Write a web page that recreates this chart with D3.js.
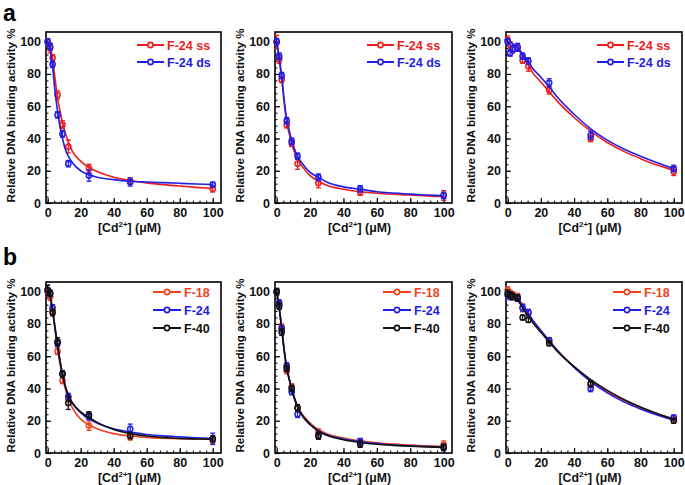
<!DOCTYPE html>
<html><head><meta charset="utf-8">
<script src="https://cdn.jsdelivr.net/npm/d3@7"></script>
<style>body{margin:0;background:#fff}svg text{font-family:"Liberation Sans",Arial,sans-serif;font-weight:bold}</style>
</head><body>
<svg id="c" width="685" height="485"></svg>
<script>
// ---- data ----
const conc = [0, 1.5, 3, 6, 9, 12.5, 25, 50, 100];
const fitX = [0, 1.5, 3, 4.5, 6, 7.5, 9, 10.5, 12.5, 15, 20, 25, 30, 40, 50, 60, 70, 80, 90, 100];
const xTicks = [0, 20, 40, 60, 80, 100];
const yTicks = [0, 20, 40, 60, 80, 100];
const colRed = "#ee1c1c", colRedB = "#f0421e", colBlue = "#1f1fe6", colBlack = "#111111";

// panel a1
const a1_ss = [100, 96, 90, 67, 48.5, 35, 21.5, 13.5, 8.8];
const a1_ss_err = [2, 3, 2, 2.5, 2.5, 4, 2.5, 2, 2];
const a1_ds = [100, 97, 86, 54.6, 42.8, 24.4, 17, 13, 11.4];
const a1_ds_err = [1.5, 2, 2, 2, 2, 2, 3.5, 2.5, 1.5];
const a1_ss_fit = [100, 96, 89, 77, 65, 57, 50, 44, 38, 32, 26, 22, 19.5, 16, 14, 12.5, 11.4, 10.5, 9.7, 9];
const a1_ds_fit = [100, 95, 84, 69, 57, 47, 40, 34, 29, 25, 20, 17.5, 16, 14.5, 13.5, 13, 12.6, 12.2, 11.8, 11.5];
// panel a2
const a2_ss = [100, 89, 76.6, 48.5, 37, 24.4, 12.4, 6.7, 4.7];
const a2_ss_err = [4, 2.5, 2, 2, 2, 3.5, 3, 2, 3];
const a2_ds = [100, 91, 79, 51, 38.3, 29, 16, 8.8, 4.7];
const a2_ds_err = [2, 2, 2, 2, 2, 2, 2, 2, 2];
const a2_ss_fit = [100, 89, 77, 62, 50, 43, 37, 32, 27, 23, 17, 13.5, 11, 8.5, 7, 6, 5.4, 5, 4.4, 4];
const a2_ds_fit = [100, 90, 79, 64, 52, 45, 39, 34, 29, 25, 19, 16, 13, 10, 8.5, 7, 6.2, 5.5, 5, 4.5];
// panel a3
const a3_ss = [101, 98, 95, 96.5, 88.6, 84.7, 70, 40, 19.5];
const a3_ss_err = [2.5, 2, 2, 2, 2, 3, 2.5, 2, 2.5];
const a3_ds = [100, 93, 95.5, 96.5, 91, 88, 74.5, 42, 21.4];
const a3_ds_err = [2, 2, 2, 2.5, 2, 2, 2.5, 2.5, 2];
const a3_ss_fit = [100, 99.5, 98.5, 97.2, 95.8, 93.5, 91, 88.7, 85.5, 81, 75, 69, 63, 53, 44.5, 37.5, 32, 27.5, 23.5, 20.3];
const a3_ds_fit = [100, 99.6, 98.8, 97.8, 96.6, 94.6, 92.5, 90.3, 87.3, 83.5, 78, 72, 65.5, 55, 46, 39, 33.5, 29, 25, 21.5];
// panel b1
const b1_18 = [100, 97, 88, 63, 45, 34, 17, 10, 8];
const b1_18_err = [2, 2.5, 2, 2, 2, 2, 3, 2, 2];
const b1_24 = [101, 99, 90, 68, 49, 35, 22.6, 14.9, 8.8];
const b1_24_err = [3, 2, 2, 2, 2, 2, 2, 3, 3.5];
const b1_40 = [101, 99, 87, 69, 49, 31, 23.6, 10.8, 8.8];
const b1_40_err = [3, 2, 2, 2.5, 2, 4, 2, 2, 2];
const b1_18_fit = [100, 96, 88, 76, 64, 55, 47, 40.5, 34, 28, 21, 17.5, 15, 12, 10.5, 9.7, 9.2, 8.9, 8.7, 8.5];
const b1_24_fit = [100, 97, 89, 78, 67, 57, 49, 42, 36, 31, 25, 21, 18.5, 15, 13, 11.5, 10.6, 10, 9.5, 9];
const b1_40_fit = [100, 97, 88, 77, 67, 57, 49, 42, 36, 31, 25.5, 22, 19, 14.5, 12, 10.5, 9.6, 9, 8.7, 8.5];
// panel b2
const b2_18 = [100, 92, 78, 51, 41, 28, 13, 7, 5];
const b2_18_err = [2, 2, 2, 2, 2, 2, 2, 2, 2.5];
const b2_24 = [100, 93, 77, 54, 38, 24, 11, 7, 3.5];
const b2_24_err = [2, 2, 2, 2, 2, 2, 2, 2, 2];
const b2_40 = [100, 91, 75, 52.5, 40, 28, 10.5, 5.5, 3.5];
const b2_40_err = [2, 2, 2, 2, 2, 2, 2, 2, 2];
const b2_18_fit = [100, 90, 78, 64, 53, 46, 40, 34.5, 29, 24.5, 18.5, 14.5, 12, 9.3, 7.5, 6.3, 5.5, 5, 4.5, 4.2];
const b2_24_fit = [100, 90, 77, 63, 52.5, 45.5, 39.5, 34, 28.5, 23.5, 17.5, 13.8, 11.3, 8.6, 7, 5.8, 5, 4.5, 4, 3.7];
const b2_40_fit = [100, 90, 77.5, 64, 53, 46, 40, 34.5, 29, 24, 17.8, 13.5, 11, 8.2, 6.5, 5.4, 4.7, 4.2, 3.8, 3.5];
// panel b3
const b3_18 = [101, 99, 98, 97, 90, 87, 69.5, 42.5, 21.5];
const b3_18_err = [2, 2, 2, 2, 2.5, 2, 1.5, 2, 1.5];
const b3_24 = [98, 97, 97, 96, 90, 87, 70, 40, 22];
const b3_24_err = [2, 2, 2, 2, 2, 2, 1.5, 2, 1.5];
const b3_40 = [99, 98, 97, 96, 84, 82.5, 68, 43, 20];
const b3_40_err = [2, 2, 2, 2, 1.5, 1.5, 1.5, 2, 1.5];
const b3_18_fit = [100, 99.5, 98.6, 97.4, 96, 94, 91.8, 89.5, 86.5, 82.5, 76, 69.5, 63.5, 53.5, 45, 38, 32.5, 28, 24.3, 21.2];
const b3_24_fit = [100, 99.5, 98.6, 97.4, 96, 94, 91.8, 89.5, 86.5, 82.5, 76, 69.7, 63.5, 53, 44.3, 37.3, 31.7, 27.3, 23.5, 20.3];
const b3_40_fit = [100, 99.3, 98, 96.5, 94.8, 92.6, 90.2, 87.8, 84.8, 81, 74.8, 68.8, 63, 53.5, 45.5, 38.8, 33.2, 28.5, 24.5, 20.8];

const labelsA = ["F-24 ss", "F-24 ds"];
const labelsB = ["F-18", "F-24", "F-40"];

// ---- drawing ----
const svg = d3.select("#c");
const panels = [
  {l:46, r:221, t:32, b:203, series:[[a1_ss,a1_ss_err,a1_ss_fit,colRed],[a1_ds,a1_ds_err,a1_ds_fit,colBlue]], labels:labelsA, leg:{x:137, y:45}},
  {l:275, r:452, t:32, b:203, series:[[a2_ss,a2_ss_err,a2_ss_fit,colRed],[a2_ds,a2_ds_err,a2_ds_fit,colBlue]], labels:labelsA, leg:{x:367, y:45}},
  {l:506, r:682, t:32, b:203, series:[[a3_ss,a3_ss_err,a3_ss_fit,colRed],[a3_ds,a3_ds_err,a3_ds_fit,colBlue]], labels:labelsA, leg:{x:597, y:45}},
  {l:46, r:221, t:282, b:453, series:[[b1_18,b1_18_err,b1_18_fit,colRedB],[b1_24,b1_24_err,b1_24_fit,colBlue],[b1_40,b1_40_err,b1_40_fit,colBlack]], labels:labelsB, leg:{x:153, y:292}},
  {l:275, r:452, t:282, b:453, series:[[b2_18,b2_18_err,b2_18_fit,colRedB],[b2_24,b2_24_err,b2_24_fit,colBlue],[b2_40,b2_40_err,b2_40_fit,colBlack]], labels:labelsB, leg:{x:383, y:292}},
  {l:506, r:682, t:282, b:453, series:[[b3_18,b3_18_err,b3_18_fit,colRedB],[b3_24,b3_24_err,b3_24_fit,colBlue],[b3_40,b3_40_err,b3_40_fit,colBlack]], labels:labelsB, leg:{x:613, y:292}}
];

panels.forEach(p => {
  const x = d3.scaleLinear().domain([-1, 105]).range([p.l, p.r]);
  const y = d3.scaleLinear().domain([0, 106]).range([p.b, p.t]);
  const g = svg.append("g");

  // minor ticks (inward)
  const minor = d3.range(0, 101, 4);
  g.append("g").attr("transform", `translate(0,${p.b})`)
    .call(d3.axisBottom(x).tickValues(minor).tickSize(-2.5).tickFormat(""))
    .call(s => s.select(".domain").remove())
    .selectAll("line").attr("stroke", "#000").attr("stroke-width", 1);
  g.append("g").attr("transform", `translate(${p.l},0)`)
    .call(d3.axisLeft(y).tickValues(minor).tickSize(-2.5).tickFormat(""))
    .call(s => s.select(".domain").remove())
    .selectAll("line").attr("stroke", "#000").attr("stroke-width", 1);

  // major axes
  const xa = g.append("g").attr("transform", `translate(0,${p.b})`)
    .call(d3.axisBottom(x).tickValues(xTicks).tickSize(-5).tickPadding(5));
  xa.select(".domain").remove();
  xa.selectAll("line").attr("stroke", "#000").attr("stroke-width", 1.2);
  xa.selectAll("text").attr("font-size", 12.5).attr("fill", "#111").attr("font-family", "Liberation Sans, Arial").attr("font-weight", "bold");
  const ya = g.append("g").attr("transform", `translate(${p.l},0)`)
    .call(d3.axisLeft(y).tickValues(yTicks).tickSize(-5).tickPadding(5));
  ya.select(".domain").remove();
  ya.selectAll("line").attr("stroke", "#000").attr("stroke-width", 1.2);
  ya.selectAll("text").attr("font-size", 12.5).attr("fill", "#111").attr("font-family", "Liberation Sans, Arial").attr("font-weight", "bold");

  // frame
  g.append("rect").attr("x", p.l).attr("y", p.t).attr("width", p.r - p.l).attr("height", p.b - p.t)
    .attr("fill", "none").attr("stroke", "#000").attr("stroke-width", 1.6);

  // axis labels
  g.append("text").attr("transform", `translate(${p.l - 31},${(p.t + p.b) / 2 - 2}) rotate(-90)`)
    .attr("text-anchor", "middle").attr("font-size", 11.6).attr("fill", "#111")
    .text("Relative DNA binding activity %");
  const xl = g.append("text").attr("x", (p.l + p.r) / 2 - 4).attr("y", p.b + 29)
    .attr("text-anchor", "middle").attr("font-size", 12.3).attr("fill", "#111");
  xl.append("tspan").text("[Cd");
  xl.append("tspan").attr("font-size", 8).attr("dy", -5).text("2+");
  xl.append("tspan").attr("dy", 5).text("] (\u03bcM)");

  // series
  const line = d3.line().x((d, i) => x(fitX[i])).y(d => y(d)).curve(d3.curveMonotoneX);
  p.series.forEach(([vals, errs, fit, col]) => {
    g.append("path").datum(fit).attr("d", line).attr("fill", "none").attr("stroke", col).attr("stroke-width", 1.6);
    const pts = g.append("g");
    vals.forEach((v, i) => {
      const cx = x(conc[i]);
      const y1 = y(v + errs[i]), y2 = y(v - errs[i]);
      pts.append("line").attr("x1", cx).attr("x2", cx).attr("y1", y1).attr("y2", y2).attr("stroke", col).attr("stroke-width", 1.3);
      [y1, y2].forEach(yy => pts.append("line").attr("x1", cx - 2.5).attr("x2", cx + 2.5).attr("y1", yy).attr("y2", yy).attr("stroke", col).attr("stroke-width", 1.3));
      pts.append("circle").attr("cx", cx).attr("cy", y(v)).attr("r", 2.6).attr("fill", "none").attr("stroke", col).attr("stroke-width", 1.5);
    });
  });

  // legend
  p.labels.forEach((lab, i) => {
    const col = p.series[i][3];
    const ly = p.leg.y + i * (p.labels.length === 2 ? 17 : 18);
    const len = p.labels.length === 2 ? 27 : 28;
    g.append("line").attr("x1", p.leg.x).attr("x2", p.leg.x + len).attr("y1", ly).attr("y2", ly).attr("stroke", col).attr("stroke-width", 2);
    g.append("circle").attr("cx", p.leg.x + len / 2).attr("cy", ly).attr("r", 2.6).attr("fill", "#fff").attr("stroke", col).attr("stroke-width", 1.6);
    g.append("text").attr("x", p.leg.x + len + 3).attr("y", ly + 4.5).attr("font-size", 12.5).attr("fill", col).text(lab);
  });
});

svg.append("text").attr("x", 3).attr("y", 21).attr("font-size", 23).attr("fill", "#000").text("a");
svg.append("text").attr("x", 3).attr("y", 265).attr("font-size", 23).attr("fill", "#000").text("b");
</script>
</body></html>
